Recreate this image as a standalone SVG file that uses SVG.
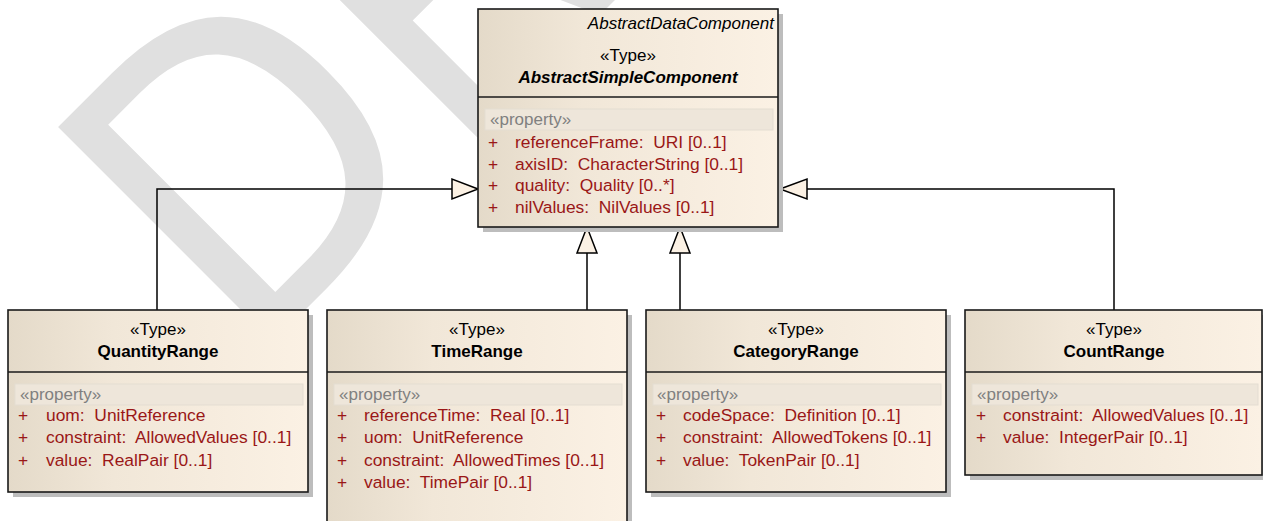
<svg xmlns="http://www.w3.org/2000/svg" width="1263" height="521" viewBox="0 0 1263 521">
<defs>
<linearGradient id="bg" x1="0" y1="0" x2="1" y2="0">
<stop offset="0" stop-color="#e4dac9"/>
<stop offset="0.35" stop-color="#f1e7d8"/>
<stop offset="1" stop-color="#fbf1e4"/>
</linearGradient>
<style>
text{font-family:"Liberation Sans",Arial,sans-serif;font-size:17px;white-space:pre}
.box{fill:url(#bg);stroke:#1a1a1a;stroke-width:1.6}
.shadow{fill:#bdbdbd}
.div{stroke:#1a1a1a;stroke-width:1.6}
.band{fill:#eee6da;stroke:#e4ddd2;stroke-width:1}
.st{fill:#000;text-anchor:middle}
.nm{fill:#000;text-anchor:middle;font-weight:bold}
.pr{fill:#808080}
.at{fill:#9a1717;font-size:17.4px}
.ln{fill:none;stroke:#000;stroke-width:1.5}
.ah{fill:#fbf1e4;stroke:#000;stroke-width:1.5;stroke-linejoin:miter}
.wm{fill:#e0e0e0;font-family:"DejaVu Sans",sans-serif;font-size:417px}
</style>
</defs>
<rect width="1263" height="521" fill="#fff"/>
<text class="wm" transform="translate(247,368) rotate(-45) scale(0.9,1)">DRAFT</text>

<g id="connectors">
<path class="ln" d="M157,310 V189 H452"/>
<polygon class="ah" points="478,189 452,179 452,199"/>
<path class="ln" d="M587,310 V253"/>
<polygon class="ah" points="587,227 577,253 597,253"/>
<path class="ln" d="M680,310 V253"/>
<polygon class="ah" points="680,227 670,253 690,253"/>
<path class="ln" d="M1114,310 V189 H807"/>
<polygon class="ah" points="780,189 807,179 807,199"/>
</g>

<g id="AbstractSimpleComponent">
<rect class="shadow" x="483" y="14" width="300" height="218"/>
<rect class="box" x="478" y="9" width="300" height="218"/>
<line class="div" x1="478" y1="97" x2="778" y2="97"/>
<text x="774" y="29" text-anchor="end" font-style="italic">AbstractDataComponent</text>
<text class="st" x="628" y="61">«Type»</text>
<text class="nm" x="628" y="83" font-style="italic">AbstractSimpleComponent</text>
<rect class="band" x="485" y="109" width="288" height="21"/>
<text class="pr" x="490" y="125">«property»</text>
<text class="at" x="488" y="148">+</text><text class="at" x="515" y="148">referenceFrame:  URI [0..1]</text>
<text class="at" x="488" y="169.5">+</text><text class="at" x="515" y="169.5">axisID:  CharacterString [0..1]</text>
<text class="at" x="488" y="191">+</text><text class="at" x="515" y="191">quality:  Quality [0..*]</text>
<text class="at" x="488" y="212.5">+</text><text class="at" x="515" y="212.5">nilValues:  NilValues [0..1]</text>
</g>

<g id="QuantityRange">
<rect class="shadow" x="13" y="315" width="300" height="182"/>
<rect class="box" x="8" y="310" width="300" height="182"/>
<line class="div" x1="8" y1="372" x2="308" y2="372"/>
<text class="st" x="158" y="335">«Type»</text>
<text class="nm" x="158" y="357">QuantityRange</text>
<rect class="band" x="15" y="384" width="288" height="21"/>
<text class="pr" x="20" y="400">«property»</text>
<text class="at" x="18" y="421">+</text><text class="at" x="46" y="421">uom:  UnitReference</text>
<text class="at" x="18" y="443">+</text><text class="at" x="46" y="443">constraint:  AllowedValues [0..1]</text>
<text class="at" x="18" y="465.5">+</text><text class="at" x="46" y="465.5">value:  RealPair [0..1]</text>
</g>

<g id="TimeRange">
<rect class="shadow" x="332" y="315" width="300" height="220"/>
<rect class="box" x="327" y="310" width="300" height="220"/>
<line class="div" x1="327" y1="372" x2="627" y2="372"/>
<text class="st" x="477" y="335">«Type»</text>
<text class="nm" x="477" y="357">TimeRange</text>
<rect class="band" x="334" y="384" width="288" height="21"/>
<text class="pr" x="339" y="400">«property»</text>
<text class="at" x="337" y="421">+</text><text class="at" x="364" y="421">referenceTime:  Real [0..1]</text>
<text class="at" x="337" y="443">+</text><text class="at" x="364" y="443">uom:  UnitReference</text>
<text class="at" x="337" y="465.5">+</text><text class="at" x="364" y="465.5">constraint:  AllowedTimes [0..1]</text>
<text class="at" x="337" y="487.5">+</text><text class="at" x="364" y="487.5">value:  TimePair [0..1]</text>
</g>

<g id="CategoryRange">
<rect class="shadow" x="651" y="315" width="300" height="182"/>
<rect class="box" x="646" y="310" width="300" height="182"/>
<line class="div" x1="646" y1="372" x2="946" y2="372"/>
<text class="st" x="796" y="335">«Type»</text>
<text class="nm" x="796" y="357">CategoryRange</text>
<rect class="band" x="653" y="384" width="288" height="21"/>
<text class="pr" x="657" y="400">«property»</text>
<text class="at" x="656" y="421">+</text><text class="at" x="683" y="421">codeSpace:  Definition [0..1]</text>
<text class="at" x="656" y="443">+</text><text class="at" x="683" y="443">constraint:  AllowedTokens [0..1]</text>
<text class="at" x="656" y="465.5">+</text><text class="at" x="683" y="465.5">value:  TokenPair [0..1]</text>
</g>

<g id="CountRange">
<rect class="shadow" x="970" y="315" width="297" height="165"/>
<rect class="box" x="965" y="310" width="297" height="165"/>
<line class="div" x1="965" y1="372" x2="1262" y2="372"/>
<text class="st" x="1114" y="335">«Type»</text>
<text class="nm" x="1114" y="357">CountRange</text>
<rect class="band" x="972" y="384" width="286" height="21"/>
<text class="pr" x="977" y="400">«property»</text>
<text class="at" x="976" y="421">+</text><text class="at" x="1003" y="421">constraint:  AllowedValues [0..1]</text>
<text class="at" x="976" y="443">+</text><text class="at" x="1003" y="443">value:  IntegerPair [0..1]</text>
</g>
</svg>
